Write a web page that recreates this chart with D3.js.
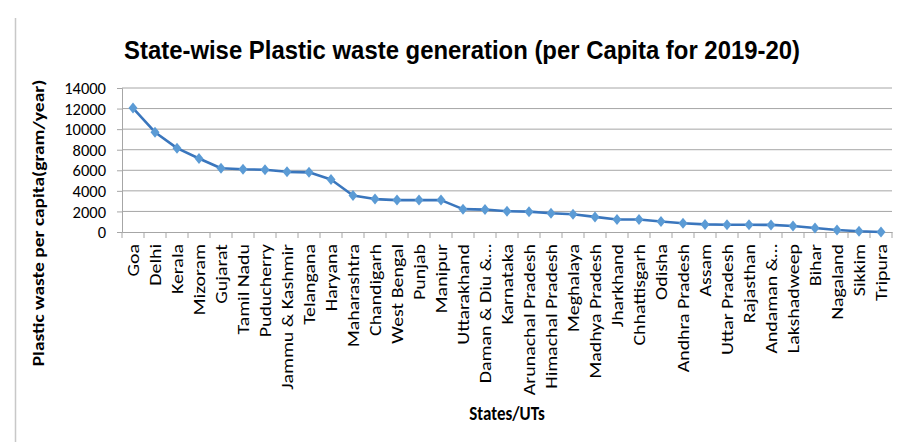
<!DOCTYPE html>
<html><head><meta charset="utf-8">
<script src="https://cdn.jsdelivr.net/npm/d3@7"></script>
<style>body{margin:0;background:#fff}svg{display:block}</style>
</head><body>
<svg id="c" width="913" height="442"></svg>
<script>
const categories = ["Goa","Delhi","Kerala","Mizoram","Gujarat","Tamil Nadu","Puducherry","Jammu & Kashmir","Telangana","Haryana","Maharashtra","Chandigarh","West Bengal","Punjab","Manipur","Uttarakhand","Daman & Diu &…","Karnataka","Arunachal Pradesh","Himachal Pradesh","Meghalaya","Madhya Pradesh","Jharkhand","Chhattisgarh","Odisha","Andhra Pradesh","Assam","Uttar Pradesh","Rajasthan","Andaman &…","Lakshadweep","Bihar","Nagaland","Sikkim","Tripura"];
const values = [12050,9700,8150,7150,6200,6100,6050,5850,5800,5100,3550,3200,3100,3100,3100,2220,2180,2020,1980,1830,1730,1470,1220,1210,1020,850,740,710,700,690,580,390,200,70,0];
const yTicks = [0,2000,4000,6000,8000,10000,12000,14000];
const title = "State-wise Plastic waste generation (per Capita for 2019-20)";
const yTitle = "Plastic waste per capita(gram/year)";
const xTitle = "States/UTs";

const svg = d3.select("#c");
const L = 122, R = 892, T = 88, B = 232;
const font = "Carlito, Lato, 'Open Sans', sans-serif";

const x = d3.scaleBand().domain(categories).range([L, R]);
const y = d3.scaleLinear().domain([0, 14000]).range([B, T]);

// left border
svg.append("line").attr("x1",15.5).attr("x2",15.5).attr("y1",18).attr("y2",442)
  .attr("stroke","#c8c8c8").attr("stroke-width",1.5);

// gridlines
svg.append("g").selectAll("line").data(yTicks.filter(d=>d>0)).join("line")
  .attr("x1",L).attr("x2",R).attr("y1",d=>y(d)).attr("y2",d=>y(d))
  .attr("stroke","#a6a6a6").attr("stroke-width",1);

// y axis
const ya = svg.append("g").attr("transform",`translate(${L},0)`)
  .call(d3.axisLeft(y).tickValues(yTicks).tickSize(5).tickPadding(11).tickFormat(d3.format("d")));
ya.select(".domain").attr("stroke","#a6a6a6");
ya.selectAll(".tick line").attr("stroke","#a6a6a6");
ya.selectAll("text").attr("font-family",font).attr("font-size",16.5).attr("fill","#000")
  .attr("dy","0.34em");

// x axis
const xa = svg.append("g").attr("transform",`translate(0,${B})`)
  .call(d3.axisBottom(x).tickSize(0).tickPadding(0));
xa.select(".domain").attr("stroke","#a6a6a6");
const bounds = categories.map(c=>x(c)).concat([R]);
xa.append("g").selectAll("line").data(bounds).join("line")
  .attr("x1",d=>d).attr("x2",d=>d).attr("y1",0).attr("y2",6).attr("stroke","#a6a6a6");
xa.selectAll(".tick text")
  .attr("font-family",font).attr("font-size",17).attr("fill","#000")
  .attr("text-anchor","end").attr("dy","0.35em")
  .attr("transform","translate(0,12) rotate(-90) scale(1.17,1)").attr("x",0).attr("y",0);

// line
const line = d3.line().x((d,i)=>x(categories[i])+x.bandwidth()/2).y(d=>y(d));
svg.append("path").datum(values).attr("d",line).attr("fill","none")
  .attr("stroke","#3a76bd").attr("stroke-width",2.6).attr("stroke-linejoin","round");

// markers
svg.append("g").selectAll("path").data(values).join("path")
  .attr("d","M0,-5.5L4.5,0L0,5.5L-4.5,0Z")
  .attr("transform",(d,i)=>`translate(${x(categories[i])+x.bandwidth()/2},${y(d)})`)
  .attr("fill","#5b9bd5");

// titles
svg.append("text").attr("x",462).attr("y",59).attr("text-anchor","middle")
  .attr("font-family","'Liberation Sans Narrow','Arial Narrow',Arial,sans-serif")
  .attr("font-weight","bold").attr("font-size",26)
  .attr("textLength",676).attr("lengthAdjust","spacingAndGlyphs")
  .text(title);

svg.append("text").attr("transform","translate(43.5,223) rotate(-90) scale(1.22,1)").attr("text-anchor","middle")
  .attr("font-family",font).attr("font-weight","bold").attr("font-size",16)
  .text(yTitle);

svg.append("text").attr("transform","translate(507,420) scale(1,1.15)").attr("text-anchor","middle")
  .attr("font-family",font).attr("font-weight","bold").attr("font-size",17)
  .text(xTitle);
</script>
</body></html>
